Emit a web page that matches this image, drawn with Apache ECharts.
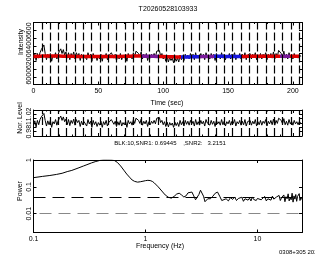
<!DOCTYPE html>
<html>
<head>
<meta charset="utf-8">
<script src="https://cdn.jsdelivr.net/npm/echarts@6/dist/echarts.min.js"></script>
<style>
  html, body { margin: 0; padding: 0; background: #fff; }
</style>
</head>
<body>
<div id="main" style="width: 315px;height:255px;"></div>
<script>
  // 光变数据，每秒一个点
  let intensity = [
    6230,6290,6210,6300,6240,6310,6350,6330,6410,6300,
    6220,6290,6240,6300,6200,6280,6250,6310,6230,6290,
    6330,6360,6300,6350,6280,6320,6240,6310,6220,6300,
    6260,6320,6230,6310,6270,6300,6210,6290,6240,6280,
    6300,6220,6310,6250,6290,6200,6300,6240,6280,6210,
    6270,6230,6290,6200,6280,6240,6300,6220,6270,6250,
    6310,6330,6240,6290,6210,6280,6230,6300,6220,6270,
    6240,6290,6200,6300,6250,6280,6230,6310,6260,6330,
    6350,6300,6260,6320,6230,6290,6250,6300,6210,6280,
    6240,6290,6260,6300,6250,6330,6310,6340,6270,6300,
    6230,6270,6200,6260,6190,6250,6210,6240,6180,6250,
    6200,6240,6190,6280,6220,6270,6210,6290,6240,6280,
    6230,6300,6250,6290,6220,6310,6240,6280,6230,6300,
    6250,6290,6220,6310,6260,6280,6230,6300,6240,6290,
    6210,6300,6250,6280,6230,6310,6240,6290,6220,6280,
    6250,6300,6230,6290,6260,6310,6220,6280,6250,6300,
    6230,6290,6240,6310,6220,6280,6260,6300,6230,6290,
    6250,6310,6220,6280,6240,6300,6230,6290,6260,6310,
    6220,6290,6250,6300,6240,6320,6230,6300,6260,6340,
    6350,6300,6250,6330,6240,6290,6230,6310,6250,6290,
    6230,6300,6250,6280,6240,6290,6260
  ];
  // 平滑曲线，每5秒一个点
  let smoothLevel = [
    6262,6265,6267,6268,6267,6265,6263,6262,6261,6261,
    6260,6260,6261,6262,6264,6266,6267,6266,6264,6262,
    6260,6258,6256,6255,6256,6258,6260,6262,6263,6263,
    6262,6262,6262,6263,6264,6264,6263,6263,6264,6265,
    6265,6264
  ];
  let colorBreaks = [83, 97, 114, 128, 139, 160, 190, 198];
  let segColors = ['#e00000', '#7a1a9a', '#e00000', '#1818e0', '#7a1a9a', '#1818e0', '#e00000', '#7a1a9a', '#e00000'];

  let norLevel = [
    0.994,1.005,0.991,1.006,0.996,1.008,1.014,1.011,1.022,1.006,
    0.993,1.005,0.996,1.006,0.990,1.003,0.998,1.008,0.995,1.005,
    1.011,1.016,1.006,1.014,1.003,1.009,0.996,1.008,0.994,1.006,
    0.999,1.009,0.995,1.008,1.001,1.006,0.992,1.004,0.996,1.003,
    1.006,0.993,1.008,0.998,1.004,0.990,1.006,0.996,1.003,0.992,
    1.001,0.995,1.004,0.990,1.003,0.996,1.006,0.993,1.001,0.998,
    1.008,1.011,0.997,1.004,0.992,1.003,0.995,1.006,0.993,1.001,
    0.996,1.004,0.990,1.006,0.998,1.003,0.995,1.008,0.999,1.011,
    1.014,1.006,0.999,1.009,0.995,1.004,0.998,1.006,0.992,1.003,
    0.996,1.004,0.999,1.006,0.998,1.011,1.008,1.013,1.001,1.006,
    0.996,1.003,0.992,1.002,0.991,1.001,0.995,1.000,0.990,1.002,
    0.994,1.001,0.992,1.006,0.996,1.003,0.993,1.006,0.997,1.004,
    0.995,1.006,0.998,1.004,0.993,1.008,0.996,1.003,0.995,1.006,
    0.998,1.004,0.993,1.008,1.000,1.003,0.995,1.006,0.997,1.004,
    0.992,1.006,0.998,1.003,0.995,1.008,0.996,1.004,0.993,1.003,
    0.998,1.006,0.995,1.004,0.999,1.008,0.993,1.003,0.998,1.006,
    0.995,1.004,0.996,1.008,0.993,1.003,0.999,1.006,0.995,1.004,
    0.998,1.008,0.993,1.003,0.996,1.006,0.995,1.004,0.999,1.008,
    0.993,1.004,0.998,1.006,0.996,1.009,0.995,1.006,0.999,1.011,
    1.013,1.006,0.998,1.010,0.996,1.004,0.995,1.008,0.998,1.004,
    0.995,1.006,0.998,1.003,0.996,1.004,0.999
  ];

  // 分块竖线 (sec)
  let blockMarks = [6.4,12.8,19.2,25.6,32,38.4,44.8,51.2,57.6,64,70.4,76.8,83.2,89.6,96,102.4,
    108.8,115.2,121.6,128,134.4,140.8,147.2,153.6,160,166.4,172.8,179.2,185.6,192,198.4,204.8];

  // 功率谱 [频率Hz, 功率]
  let powerSpec = [
    [0.1,0.22],[0.12,0.245],[0.14,0.265],[0.16,0.29],[0.18,0.32],[0.2,0.37],[0.22,0.41],
    [0.25,0.5],[0.28,0.6],[0.3,0.67],[0.33,0.78],[0.36,0.88],[0.39,0.96],[0.42,1.0],
    [0.46,1.0],[0.5,0.99],[0.53,0.95],[0.56,0.82],[0.6,0.6],[0.64,0.42],[0.68,0.3],
    [0.72,0.23],[0.76,0.18],[0.8,0.16],[0.85,0.15],[0.9,0.155],[0.95,0.162],[1.0,0.17],
    [1.05,0.175],[1.1,0.172],[1.15,0.16],[1.2,0.14],[1.3,0.1],[1.4,0.07],[1.5,0.05],
    [1.6,0.041],[1.7,0.038],[1.8,0.044],[1.9,0.054],[2.0,0.058],[2.1,0.05],[2.2,0.042],
    [2.3,0.046],[2.4,0.06],[2.5,0.07],[2.6,0.064],[2.7,0.046],[2.8,0.033],[2.9,0.035],
    [3.0,0.052],[3.1,0.075],[3.2,0.07],[3.3,0.045],[3.4,0.028],[3.5,0.03],[3.6,0.036],
    [3.7,0.032],[3.8,0.036],[3.9,0.04],[4.0,0.045],[4.2,0.058],[4.4,0.064],[4.6,0.045],
    [4.8,0.031],[5.0,0.032],[5.25,0.036],[5.5,0.03],[5.75,0.04],[6.0,0.034],[6.25,0.042],
    [6.5,0.031],[6.75,0.037],[7.0,0.033],[7.25,0.041],[7.5,0.029],[7.75,0.036],[8.0,0.04],
    [8.25,0.032],[8.5,0.038],[8.75,0.03],[9.0,0.042],[9.25,0.034],[9.5,0.039],[9.75,0.031],
    [10.0,0.037],[10.4,0.041],[10.8,0.033],[11.2,0.038],[11.6,0.044],[12.0,0.03],[12.4,0.036],
    [12.8,0.04],[13.2,0.032],[13.6,0.045],[14.0,0.035],[14.4,0.03],[14.8,0.042],[15.2,0.037],
    [15.6,0.048],[16.0,0.031],[16.4,0.039],[16.8,0.034],[17.2,0.05],[17.6,0.028],[18.0,0.043],
    [18.4,0.036],[18.8,0.055],[19.2,0.03],[19.6,0.04],[20.0,0.033],[20.4,0.058],[20.8,0.027],
    [21.2,0.046],[21.6,0.035],[22.0,0.052],[22.4,0.029],[22.8,0.044],[23.2,0.038],[23.6,0.056],
    [24.0,0.031],[24.4,0.041],[24.8,0.034]
  ];
  let sigLevels = [0.037, 0.0075];

  let font = 'Liberation Sans';
  let txt = { fontFamily: font, fontSize: 7, color: '#000' };

  function boxAxis(extra) {
    return Object.assign({
      axisLine: { onZero: false, lineStyle: { color: '#000', width: 1 } },
      axisTick: { inside: true, length: 3, lineStyle: { color: '#000' } },
      splitLine: { show: false },
      axisLabel: Object.assign({ margin: 2 }, txt)
    }, extra);
  }
  function isDecade(v) {
    let l = Math.log10(v);
    return Math.abs(l - Math.round(l)) < 1e-6;
  }

  let myChart = echarts.init(document.getElementById('main'), null, { renderer: 'canvas' });

  let timeX = { type: 'value', min: 0, max: 207, interval: 50,
    minorTick: { show: true, splitNumber: 5, length: 1.5, lineStyle: { color: '#000' } } };
  let freqX = { type: 'log', min: 0.1, max: 25, logBase: 10 };
  let blockLine = {
    silent: true, symbol: 'none', label: { show: false },
    lineStyle: { color: '#000', type: [8, 3], width: 1.2 },
    data: blockMarks.map(t => ({ xAxis: t }))
  };

  let option = {
    animation: false,
    backgroundColor: '#fff',
    grid: [
      { left: 33.5, top: 22.5, width: 268.5, height: 62 },
      { left: 33.5, top: 110, width: 268.5, height: 26 },
      { left: 33.5, top: 160, width: 268.5, height: 72.5 }
    ],
    xAxis: [
      boxAxis(Object.assign({}, timeX, { gridIndex: 0, position: 'bottom',
        axisLabel: Object.assign({ margin: 3, showMaxLabel: false }, txt) })),
      boxAxis(Object.assign({}, timeX, { gridIndex: 0, position: 'top', axisLabel: { show: false } })),
      boxAxis(Object.assign({}, timeX, { gridIndex: 1, position: 'bottom', axisLabel: { show: false } })),
      boxAxis(Object.assign({}, timeX, { gridIndex: 1, position: 'top', axisLabel: { show: false } })),
      boxAxis(Object.assign({}, freqX, { gridIndex: 2, position: 'bottom',
        axisLabel: Object.assign({ margin: 3, formatter: v => isDecade(v) ? String(+v.toPrecision(1)) : '' }, txt) })),
      boxAxis(Object.assign({}, freqX, { gridIndex: 2, position: 'top', axisLabel: { show: false } }))
    ],
    yAxis: [
      boxAxis({ type: 'value', gridIndex: 0, position: 'left', min: 5900, max: 6700, interval: 100,
        axisLabel: Object.assign({ margin: 1, rotate: 90,
          formatter: v => (v % 200 === 0 && v > 5900 && v < 6700) ? String(v) : '' }, txt) }),
      boxAxis({ type: 'value', gridIndex: 0, position: 'right', min: 5900, max: 6700, interval: 100, axisLabel: { show: false } }),
      boxAxis({ type: 'value', gridIndex: 1, position: 'left', min: 0.97, max: 1.03, interval: 0.01,
        axisLabel: Object.assign({ margin: 1, rotate: 90,
          formatter: v => { let k = Math.round(v * 100); return k === 98 ? '0.98' : k === 100 ? '1' : k === 102 ? '1.02' : ''; } }, txt) }),
      boxAxis({ type: 'value', gridIndex: 1, position: 'right', min: 0.97, max: 1.03, interval: 0.01, axisLabel: { show: false } }),
      boxAxis({ type: 'log', gridIndex: 2, position: 'left', min: 0.002, max: 1, logBase: 10,
        axisLabel: Object.assign({ margin: 1, rotate: 90,
          formatter: v => isDecade(v) ? String(+v.toPrecision(1)) : '' }, txt) }),
      boxAxis({ type: 'log', gridIndex: 2, position: 'right', min: 0.002, max: 1, logBase: 10, axisLabel: { show: false } })
    ],
    visualMap: {
      type: 'piecewise', show: false, seriesIndex: 1, dimension: 0,
      pieces: segColors.map((c, i) => {
        let p = { color: c };
        if (i > 0) p.gte = colorBreaks[i - 1];
        if (i < colorBreaks.length) p.lt = colorBreaks[i];
        return p;
      })
    },
    graphic: [
      { type: 'text', x: 168, y: 9, style: Object.assign({ text: 'T20260528103933', align: 'center', verticalAlign: 'middle' }, txt) },
      { type: 'text', x: 21, y: 42, rotation: Math.PI / 2,
        style: Object.assign({ text: 'Intensity', align: 'center', verticalAlign: 'middle' }, txt) },
      { type: 'text', x: 167, y: 103, style: Object.assign({ text: 'Time (sec)', align: 'center', verticalAlign: 'middle' }, txt) },
      { type: 'text', x: 20, y: 118, rotation: Math.PI / 2,
        style: Object.assign({ text: 'Nor. Level', align: 'center', verticalAlign: 'middle' }, txt) },
      { type: 'text', x: 170, y: 143,
        style: Object.assign({ text: 'BLK:10,SNR1: 0.69445    ,SNR2:   3.2151', align: 'center', verticalAlign: 'middle' }, txt, { fontSize: 6 }) },
      { type: 'text', x: 20, y: 191, rotation: Math.PI / 2,
        style: Object.assign({ text: 'Power', align: 'center', verticalAlign: 'middle' }, txt) },
      { type: 'text', x: 160, y: 246, style: Object.assign({ text: 'Frequency (Hz)', align: 'center', verticalAlign: 'middle' }, txt) },
      { type: 'text', x: 279, y: 252, style: Object.assign({ text: '0308+305 2026/05/28', align: 'left', verticalAlign: 'middle' }, txt, { fontSize: 6 }) }
    ],
    series: [
      {
        type: 'line', xAxisIndex: 0, yAxisIndex: 0, symbol: 'none',
        data: intensity.map((v, i) => [i, v]),
        lineStyle: { color: '#000', width: 1 },
        markLine: blockLine
      },
      {
        type: 'line', xAxisIndex: 0, yAxisIndex: 0, symbol: 'none', smooth: true,
        data: smoothLevel.map((v, i) => [i * 5, v]),
        lineStyle: { width: 3.5 }
      },
      {
        type: 'line', xAxisIndex: 2, yAxisIndex: 2, symbol: 'none',
        data: norLevel.map((v, i) => [i, v]),
        lineStyle: { color: '#000', width: 1 },
        markLine: blockLine
      },
      {
        type: 'line', xAxisIndex: 4, yAxisIndex: 4, symbol: 'none',
        data: powerSpec,
        lineStyle: { color: '#000', width: 1 },
        markLine: {
          silent: true, symbol: 'none', label: { show: false },
          data: [
            { yAxis: sigLevels[0], lineStyle: { color: '#000', type: [12, 7], width: 1 } },
            { yAxis: sigLevels[1], lineStyle: { color: '#888', type: [12, 7], width: 1, dashOffset: -6 } }
          ]
        }
      }
    ]
  };
  myChart.setOption(option);
</script>
</body>
</html>
